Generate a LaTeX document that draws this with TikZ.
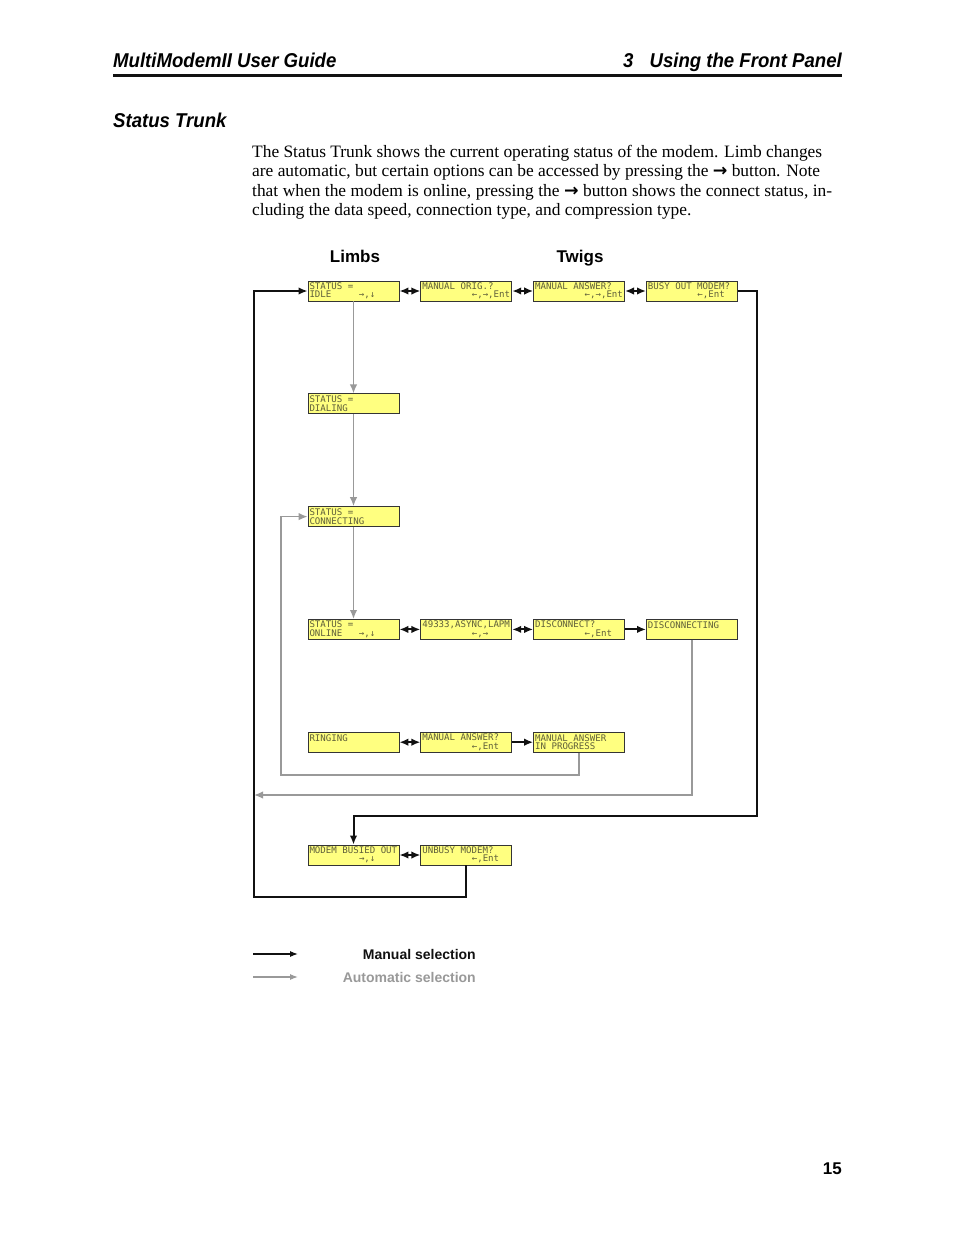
\documentclass[tikz,border=0pt]{standalone}
\usepackage{fontspec}
\setmainfont{Liberation Serif}
\newfontfamily\lcdfont{DejaVu Sans Mono}
\newfontfamily\headfont[FakeStretch=0.93]{Liberation Sans}
\newfontfamily\labelfont{Liberation Sans}
\newfontfamily\symfont{DejaVu Sans}
\usepackage{xcolor}
\usepackage{tikz}
\usetikzlibrary{arrows.meta,positioning}
\definecolor{cLcd}{HTML}{FFFF80}
\definecolor{cLcdInk}{HTML}{5F5F3A}
\definecolor{cAuto}{HTML}{999999}
\definecolor{cInk}{HTML}{111111}
\newlength\lcdcell
\setlength\lcdcell{5.5pt}
\newcommand\lcdpad[1]{\hspace*{#1\lcdcell}}
\newcommand\lc{\lcdpad{1}}
\newcommand\btnarrow{{\symfont\bfseries →}}
\tikzset{
  lcd/.style      = {draw=cInk!85, fill=cLcd, line width=0.8pt, align=left,
                     text width=88pt, minimum width=91pt, minimum height=20pt,
                     inner xsep=1.5pt, inner ysep=0.6pt, text=cLcdInk,
                     font=\lcdfont\fontsize{9.1}{8.3}\selectfont},
  manflow/.style  = {-{Latex[length=9pt,width=7.5pt]}, draw=cInk, line width=2pt},
  manboth/.style  = {{Latex[length=9pt,width=7.5pt]}-{Latex[length=9pt,width=7.5pt]},
                     draw=cInk, line width=2pt},
  autoflow/.style = {-{Latex[length=9pt,width=7.5pt]}, draw=cAuto, line width=1.5pt},
  legflow/.style  = {-{Latex[length=8pt,width=6pt]}, line width=1.2pt},
  headline/.style = {font=\headfont\bfseries\itshape\fontsize{20}{24}\selectfont,
                     inner sep=0pt},
  colhead/.style  = {font=\labelfont\bfseries\fontsize{17}{20}\selectfont, inner sep=0pt},
  bodyline/.style = {font=\fontsize{17.4}{19.5}\selectfont, inner sep=0pt, anchor=base west},
  legtext/.style  = {font=\labelfont\bfseries\fontsize{14}{16}\selectfont, inner sep=0pt,
                     anchor=base east},
}

\begin{document}
\begin{tikzpicture}[x=1pt, y=-1pt, node distance=92pt and 21pt]
  \useasboundingbox[fill=white] (0,0) rectangle (954,1235);
  % page head
  \node[headline, anchor=base west] (guide) at (113,67) {MultiModemII User Guide};
  \node[headline, anchor=base east] (chapter) at (842,67) {3\hspace{16pt}Using the Front Panel};
  \draw[line width=3pt, draw=cInk] (113,75) -- (842,75);
  \node[headline, anchor=base west] (section) at (113,127) {Status Trunk};
  % body text
  \node[bodyline] (txta) at (252,157)
    {\makebox[570pt][s]{The Status Trunk shows the current operating status of the modem. Limb changes}};
  \node[bodyline] (txtb) at (252,176.5)
    {\makebox[568pt][s]{are automatic, but certain options can be accessed by pressing the \btnarrow{} button. Note}};
  \node[bodyline] (txtc) at (252,196)
    {\makebox[580pt][s]{that when the modem is online, pressing the \btnarrow{} button shows the connect status, in-}};
  \node[bodyline] (txtd) at (252,215.5)
    {cluding the data speed, connection type, and compression type.};
  % column heads
  \node[colhead, anchor=base] (limbs) at (355,262) {Limbs};
  \node[colhead, anchor=base] (twigs) at (580,262) {Twigs};
  % limbs and twigs
  \node[lcd] (idle) at (353.5,291) {STATUS\lc=\\IDLE\lcdpad{5}→,↓};
  \node[lcd, right=of idle] (orig) {MANUAL\lc ORIG.?\\\lcdpad{9}←,→,Ent};
  \node[lcd, right=of orig] (answer) {MANUAL\lc ANSWER?\\\lcdpad{9}←,→,Ent};
  \node[lcd, right=of answer] (busy) {BUSY\lc OUT\lc MODEM?\\\lcdpad{9}←,Ent};
  \node[lcd, below=of idle] (dialing) {STATUS\lc=\\DIALING};
  \node[lcd, below=of dialing] (connecting) {STATUS\lc=\\CONNECTING};
  \node[lcd, below=of connecting] (online) {STATUS\lc=\\ONLINE\lcdpad{3}→,↓};
  \node[lcd, right=of online] (speed) {49333,ASYNC,LAPM\\\lcdpad{9}←,→};
  \node[lcd, right=of speed] (disconnect) {DISCONNECT?\\\lcdpad{9}←,Ent};
  \node[lcd, right=of disconnect] (disconnecting) {DISCONNECTING\\\lcdpad{1}};
  \node[lcd, below=of online] (ringing) {RINGING\\\lcdpad{1}};
  \node[lcd, right=of ringing] (ringanswer) {MANUAL\lc ANSWER?\\\lcdpad{9}←,Ent};
  \node[lcd, right=of ringanswer] (inprog) {MANUAL\lc ANSWER\\IN\lc PROGRESS};
  \node[lcd, below=of ringing] (busied) {MODEM\lc BUSIED\lc OUT\\\lcdpad{9}→,↓};
  \node[lcd, right=of busied] (unbusy) {UNBUSY\lc MODEM?\\\lcdpad{9}←,Ent};
  % corner points
  \coordinate (leftbot) at (254,897);
  \coordinate (rightbot) at (757,816);
  \coordinate (loopback) at (281,775);
  \coordinate (trunkjoin) at (254,795);
  % manual flows
  \draw[manboth] (idle) -- (orig);
  \draw[manboth] (orig) -- (answer);
  \draw[manboth] (answer) -- (busy);
  \draw[manboth] (online) -- (speed);
  \draw[manboth] (speed) -- (disconnect);
  \draw[manflow] (disconnect) -- (disconnecting);
  \draw[manboth] (ringing) -- (ringanswer);
  \draw[manflow] (ringanswer) -- (inprog);
  \draw[manboth] (busied) -- (unbusy);
  \draw[manflow] (busy.east) -| (rightbot) -| (busied.north);
  \draw[manflow] (unbusy.south) |- (leftbot) |- (idle.west);
  % automatic flows
  \draw[autoflow] (idle) -- (dialing);
  \draw[autoflow] (dialing) -- (connecting);
  \draw[autoflow] (connecting) -- (online);
  \draw[autoflow] (inprog.south) |- (loopback) |- (connecting.west);
  \draw[autoflow] (disconnecting.south) |- (trunkjoin);
  % legend
  \coordinate (manA) at (253,954);
  \coordinate (manB) at (298,954);
  \coordinate (autoA) at (253,977);
  \coordinate (autoB) at (298,977);
  \draw[legflow, draw=cInk] (manA) -- (manB);
  \draw[legflow, draw=cAuto] (autoA) -- (autoB);
  \node[legtext, text=cInk] (mantext) at (476,959) {Manual selection};
  \node[legtext, text=cAuto] (autotext) at (476,982) {Automatic selection};
  % page number
  \node[colhead, anchor=base east] (pageno) at (842,1174) {15};
\end{tikzpicture}
\end{document}
